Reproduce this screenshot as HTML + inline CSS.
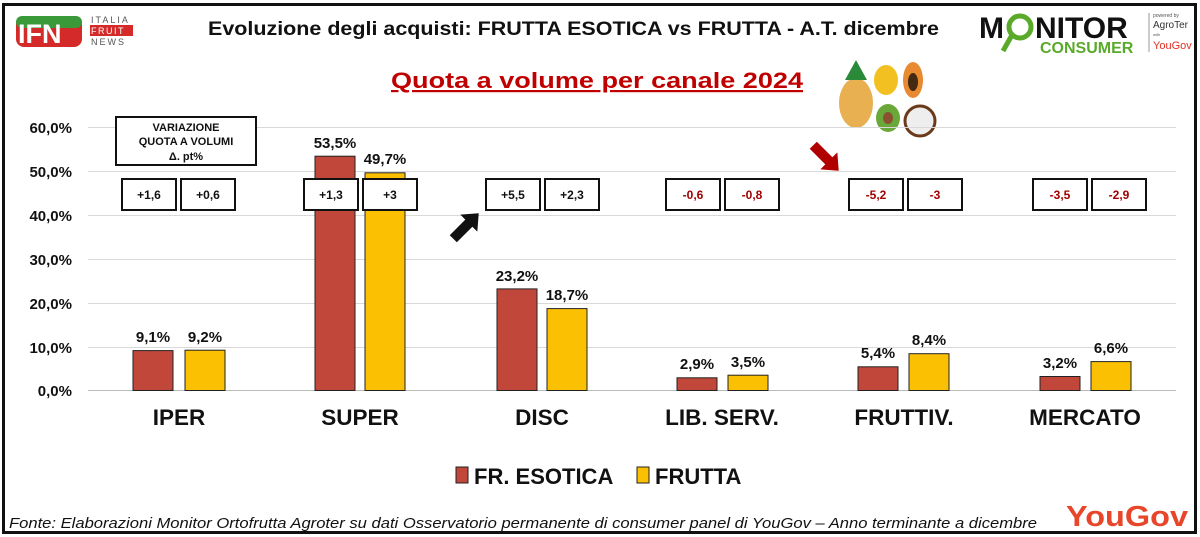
<!DOCTYPE html>
<html><head><meta charset="utf-8"><style>
body{margin:0;background:#fff}
svg{display:block;font-family:"Liberation Sans",Arial,sans-serif}
</style></head><body>
<svg width="1200" height="537" viewBox="0 0 1200 537">
<rect x="0" y="0" width="1200" height="537" fill="#fff"/>
<rect x="3.5" y="4.5" width="1192" height="528" fill="none" stroke="#111" stroke-width="3"/>
<!-- IFN logo -->
<rect x="16" y="16" width="66" height="31" rx="8" fill="#d42a2a"/>
<rect x="16" y="16" width="66" height="12" rx="6" fill="#3a9a3a"/>
<text x="18" y="43" font-size="27" font-weight="bold" fill="#fff">IFN</text>
<text x="91" y="23" font-size="9" fill="#555" letter-spacing="2">ITALIA</text>
<rect x="90" y="25" width="43" height="11" fill="#d42a2a"/>
<text x="91" y="34" font-size="9" fill="#fff" letter-spacing="1.5">FRUIT</text>
<text x="91" y="45" font-size="9" fill="#555" letter-spacing="2">NEWS</text>
<!-- title -->
<text x="208" y="35" font-size="19" font-weight="bold" fill="#111" textLength="731" lengthAdjust="spacingAndGlyphs">Evoluzione degli acquisti: FRUTTA ESOTICA vs FRUTTA  - A.T. dicembre</text>
<text x="391" y="88" font-size="22" font-weight="bold" fill="#c00000" text-decoration="underline" textLength="412" lengthAdjust="spacingAndGlyphs">Quota a volume per canale 2024</text>
<!-- Monitor logo -->
<text x="979" y="38" font-size="30" font-weight="bold" fill="#111">M</text>
<circle cx="1020" cy="27" r="11" fill="none" stroke="#5aaa2a" stroke-width="5"/>
<line x1="1012" y1="35" x2="1003" y2="51" stroke="#5aaa2a" stroke-width="5"/>
<text x="1035" y="38" font-size="30" font-weight="bold" fill="#111">NITOR</text>
<text x="1040" y="53" font-size="16" font-weight="bold" fill="#5aaa2a">CONSUMER</text>
<line x1="1149" y1="13" x2="1149" y2="52" stroke="#999"/>
<text x="1153" y="17" font-size="5" fill="#555">powered by</text>
<text x="1153" y="28" font-size="10" fill="#333">AgroTer</text>
<text x="1153" y="36" font-size="4" fill="#555">with</text>
<text x="1153" y="49" font-size="11" fill="#e03020">YouGov</text>
<!-- fruit -->
<ellipse cx="856" cy="103" rx="17" ry="25" fill="#e8b050"/>
<path d="M845 80 L856 60 L867 80 Z" fill="#2a8a3a"/>
<ellipse cx="886" cy="80" rx="12" ry="15" fill="#f2c020"/>
<ellipse cx="913" cy="80" rx="10" ry="18" fill="#e88a30"/>
<ellipse cx="913" cy="82" rx="5" ry="9" fill="#442a10"/>
<ellipse cx="888" cy="118" rx="12" ry="14" fill="#6aa83a"/>
<ellipse cx="888" cy="118" rx="5" ry="6" fill="#8a5030"/>
<circle cx="920" cy="121" r="15" fill="#eee" stroke="#6a3a1a" stroke-width="3"/>
<!-- grid -->
<g stroke="#d9d9d9" stroke-width="1">
<line x1="88" y1="127.5" x2="1176" y2="127.5"/>
<line x1="88" y1="171.5" x2="1176" y2="171.5"/>
<line x1="88" y1="215.5" x2="1176" y2="215.5"/>
<line x1="88" y1="259.5" x2="1176" y2="259.5"/>
<line x1="88" y1="303.5" x2="1176" y2="303.5"/>
<line x1="88" y1="347.5" x2="1176" y2="347.5"/>
</g>
<line x1="88" y1="390.5" x2="1176" y2="390.5" stroke="#bbb"/>
<g font-size="15" font-weight="bold" fill="#111" text-anchor="end">
<text x="72" y="133">60,0%</text><text x="72" y="177">50,0%</text><text x="72" y="221">40,0%</text>
<text x="72" y="265">30,0%</text><text x="72" y="309">20,0%</text><text x="72" y="353">10,0%</text><text x="72" y="396">0,0%</text>
</g>
<!-- bars -->
<g stroke="#222" stroke-width="1">
<rect x="133" y="350.6" width="40" height="39.9" fill="#c0473a"/>
<rect x="185" y="350.2" width="40" height="40.3" fill="#fbc002"/>
<rect x="315" y="156.2" width="40" height="234.3" fill="#c0473a"/>
<rect x="365" y="172.8" width="40" height="217.7" fill="#fbc002"/>
<rect x="497" y="288.9" width="40" height="101.6" fill="#c0473a"/>
<rect x="547" y="308.6" width="40" height="81.9" fill="#fbc002"/>
<rect x="677" y="377.8" width="40" height="12.7" fill="#c0473a"/>
<rect x="728" y="375.2" width="40" height="15.3" fill="#fbc002"/>
<rect x="858" y="366.8" width="40" height="23.7" fill="#c0473a"/>
<rect x="909" y="353.7" width="40" height="36.8" fill="#fbc002"/>
<rect x="1040" y="376.5" width="40" height="14" fill="#c0473a"/>
<rect x="1091" y="361.6" width="40" height="28.9" fill="#fbc002"/>
</g>
<g font-size="15" font-weight="bold" fill="#111" text-anchor="middle">
<text x="153" y="342">9,1%</text><text x="205" y="342">9,2%</text>
<text x="335" y="148">53,5%</text><text x="385" y="164">49,7%</text>
<text x="517" y="281">23,2%</text><text x="567" y="300">18,7%</text>
<text x="697" y="369">2,9%</text><text x="748" y="367">3,5%</text>
<text x="878" y="358">5,4%</text><text x="929" y="345">8,4%</text>
<text x="1060" y="368">3,2%</text><text x="1111" y="353">6,6%</text>
</g>
<!-- variation box -->
<rect x="116" y="117" width="140" height="48" fill="#fff" stroke="#111" stroke-width="2"/>
<g font-size="11" font-weight="bold" text-anchor="middle" fill="#111">
<text x="186" y="131">VARIAZIONE</text><text x="186" y="145">QUOTA A VOLUMI</text><text x="186" y="160">Δ. pt%</text>
</g>
<g fill="#fff" stroke="#111" stroke-width="2">
<rect x="122" y="179" width="54" height="31"/><rect x="181" y="179" width="54" height="31"/>
<rect x="304" y="179" width="54" height="31"/><rect x="363" y="179" width="54" height="31"/>
<rect x="486" y="179" width="54" height="31"/><rect x="545" y="179" width="54" height="31"/>
<rect x="666" y="179" width="54" height="31"/><rect x="725" y="179" width="54" height="31"/>
<rect x="849" y="179" width="54" height="31"/><rect x="908" y="179" width="54" height="31"/>
<rect x="1033" y="179" width="54" height="31"/><rect x="1092" y="179" width="54" height="31"/>
</g>
<g font-size="12" font-weight="bold" text-anchor="middle">
<text x="149" y="199" fill="#111">+1,6</text><text x="208" y="199" fill="#111">+0,6</text>
<text x="331" y="199" fill="#111">+1,3</text><text x="390" y="199" fill="#111">+3</text>
<text x="513" y="199" fill="#111">+5,5</text><text x="572" y="199" fill="#111">+2,3</text>
<text x="693" y="199" fill="#a00000">-0,6</text><text x="752" y="199" fill="#a00000">-0,8</text>
<text x="876" y="199" fill="#a00000">-5,2</text><text x="935" y="199" fill="#a00000">-3</text>
<text x="1060" y="199" fill="#a00000">-3,5</text><text x="1119" y="199" fill="#a00000">-2,9</text>
</g>
<!-- arrows -->
<g transform="translate(466,226) rotate(-45)"><polygon points="-18,-5 4,-5 4,-12 18,0 4,12 4,5 -18,5" fill="#111"/></g>
<g transform="translate(826,158) rotate(45)"><polygon points="-18,-5 4,-5 4,-12 18,0 4,12 4,5 -18,5" fill="#b00000"/></g>
<!-- categories -->
<g font-size="22.5" font-weight="bold" fill="#111" text-anchor="middle">
<text x="179" y="425">IPER</text><text x="360" y="425">SUPER</text><text x="542" y="425">DISC</text>
<text x="722" y="425">LIB. SERV.</text><text x="904" y="425">FRUTTIV.</text><text x="1085" y="425">MERCATO</text>
</g>
<!-- legend -->
<rect x="456" y="467" width="12" height="16" fill="#c0473a" stroke="#222"/>
<text x="474" y="484" font-size="22" font-weight="bold" fill="#111">FR. ESOTICA</text>
<rect x="637" y="467" width="12" height="16" fill="#fbc002" stroke="#222"/>
<text x="655" y="484" font-size="22" font-weight="bold" fill="#111">FRUTTA</text>
<!-- footer -->
<text x="9" y="528" font-size="15" font-style="italic" fill="#111" textLength="1028" lengthAdjust="spacingAndGlyphs">Fonte: Elaborazioni Monitor Ortofrutta Agroter su dati Osservatorio permanente di consumer panel di YouGov  – Anno terminante a dicembre</text>
<text x="1066" y="526" font-size="29" font-weight="bold" fill="#e8462a" textLength="122" lengthAdjust="spacingAndGlyphs">YouGov</text>
</svg>
</body></html>
